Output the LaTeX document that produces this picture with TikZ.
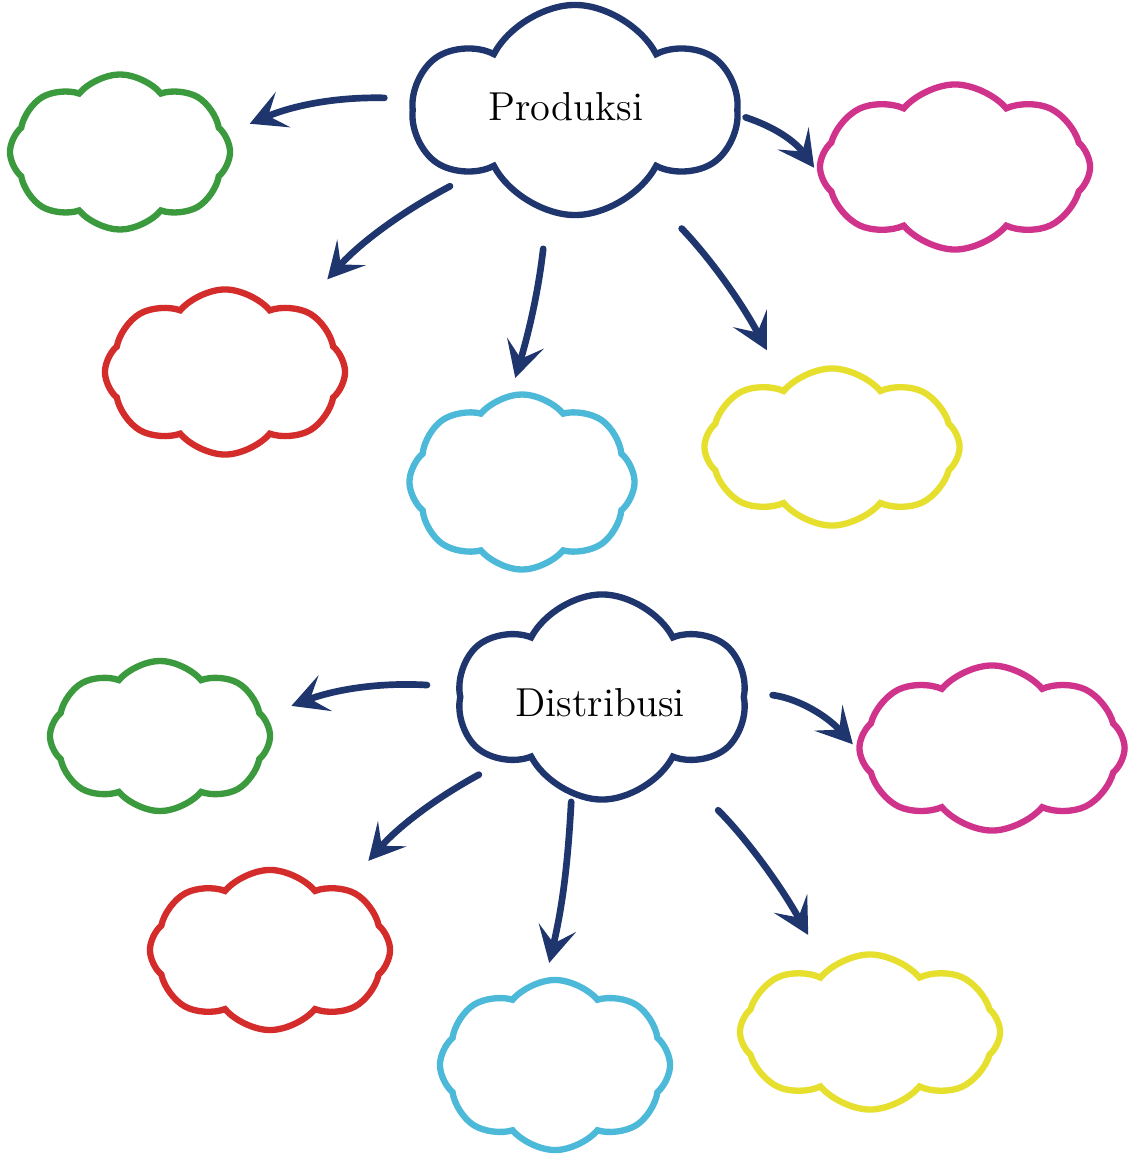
\documentclass[tikz,border=0pt]{standalone}
\usetikzlibrary{shapes.symbols,arrows.meta}
\definecolor{navy}{HTML}{1F356E}
\definecolor{cgreen}{HTML}{3C9A3E}
\definecolor{cred}{HTML}{D42B2B}
\definecolor{ccyan}{HTML}{4DB9D9}
\definecolor{cyel}{HTML}{E6DF2E}
\definecolor{cmag}{HTML}{D0338C}
\begin{document}
\begin{tikzpicture}[x=0.01cm,y=-0.01cm,
  cl/.style={cloud, cloud puffs=8, cloud puff arc=100, draw, line width=1.8pt, inner sep=0pt, aspect=1.3},
  ctr/.style={cloud, cloud puffs=6, cloud puff arc=125, draw=navy, line width=1.8pt, inner sep=0pt, aspect=1.3},
  arr/.style={draw=navy, line width=1.9pt, line cap=round,
    -{Stealth[length=3.6mm,width=3.8mm,inset=1.6mm]}},
  lbl/.style={font=\fontsize{11.5}{13}\selectfont, text=black}]
\useasboundingbox[fill=white] (0,0) rectangle (1133,1155);

% ---------- top diagram ----------
\node[ctr, minimum width=3.2cm, minimum height=2.1cm] (P) at (575,110) {};
\node[lbl] at (566,107) {Produksi};
\node[cl, draw=cgreen, minimum width=2.2cm, minimum height=1.55cm] (G1) at (120,152) {};
\node[cl, draw=cmag, minimum width=2.7cm, minimum height=1.65cm] (M1) at (955,167) {};
\node[cl, draw=cred, minimum width=2.4cm, minimum height=1.65cm] (R1) at (225,372) {};
\node[cl, draw=ccyan, minimum width=2.25cm, minimum height=1.75cm] (C1) at (522,482) {};
\node[cl, draw=cyel, minimum width=2.55cm, minimum height=1.57cm] (Y1) at (832,447) {};

\draw[arr, shorten <=0.25cm, shorten >=0.24cm] (P.176) to[bend right=12] (G1.10);
\draw[arr, shorten <=0.05cm, shorten >=0.05cm] (P.-2) to[bend left=18] (M1.182);
\draw[arr, shorten <=0.23cm, shorten >=0.37cm] (P.212) to[bend right=10] (R1.40);
\draw[arr, shorten <=0.35cm, shorten >=0.15cm] (P.255) to[bend left=5] (C1.97);
\draw[arr, shorten <=0.55cm, shorten >=0.39cm] (P.311) to[bend left=8] (Y1.127);

% ---------- bottom diagram ----------
\node[ctr, minimum width=2.87cm, minimum height=2.05cm] (D) at (602,697) {};
\node[lbl] at (600,703) {Distribusi};
\node[cl, draw=cgreen, minimum width=2.2cm, minimum height=1.5cm] (G2) at (160,736) {};
\node[cl, draw=cmag, minimum width=2.65cm, minimum height=1.65cm] (M2) at (992,748) {};
\node[cl, draw=cred, minimum width=2.4cm, minimum height=1.6cm] (R2) at (270,950) {};
\node[cl, draw=ccyan, minimum width=2.3cm, minimum height=1.7cm] (C2) at (555,1065) {};
\node[cl, draw=cyel, minimum width=2.6cm, minimum height=1.55cm] (Y2) at (870,1032) {};

\draw[arr, shorten <=0.29cm, shorten >=0.27cm] (D.176) to[bend right=12] (G2.11);
\draw[arr, shorten <=0.25cm, shorten >=0.05cm] (D.2) to[bend left=20] (M2.180);
\draw[arr, shorten <=0.25cm, shorten >=0.34cm] (D.213) to[bend right=10] (R2.40);
\draw[arr, shorten <=0.05cm, shorten >=0.15cm] (D.253) to[bend left=5] (C2.96);
\draw[arr, shorten <=0.65cm, shorten >=0.37cm] (D.316) to[bend left=8] (Y2.124);
\end{tikzpicture}
\end{document}
